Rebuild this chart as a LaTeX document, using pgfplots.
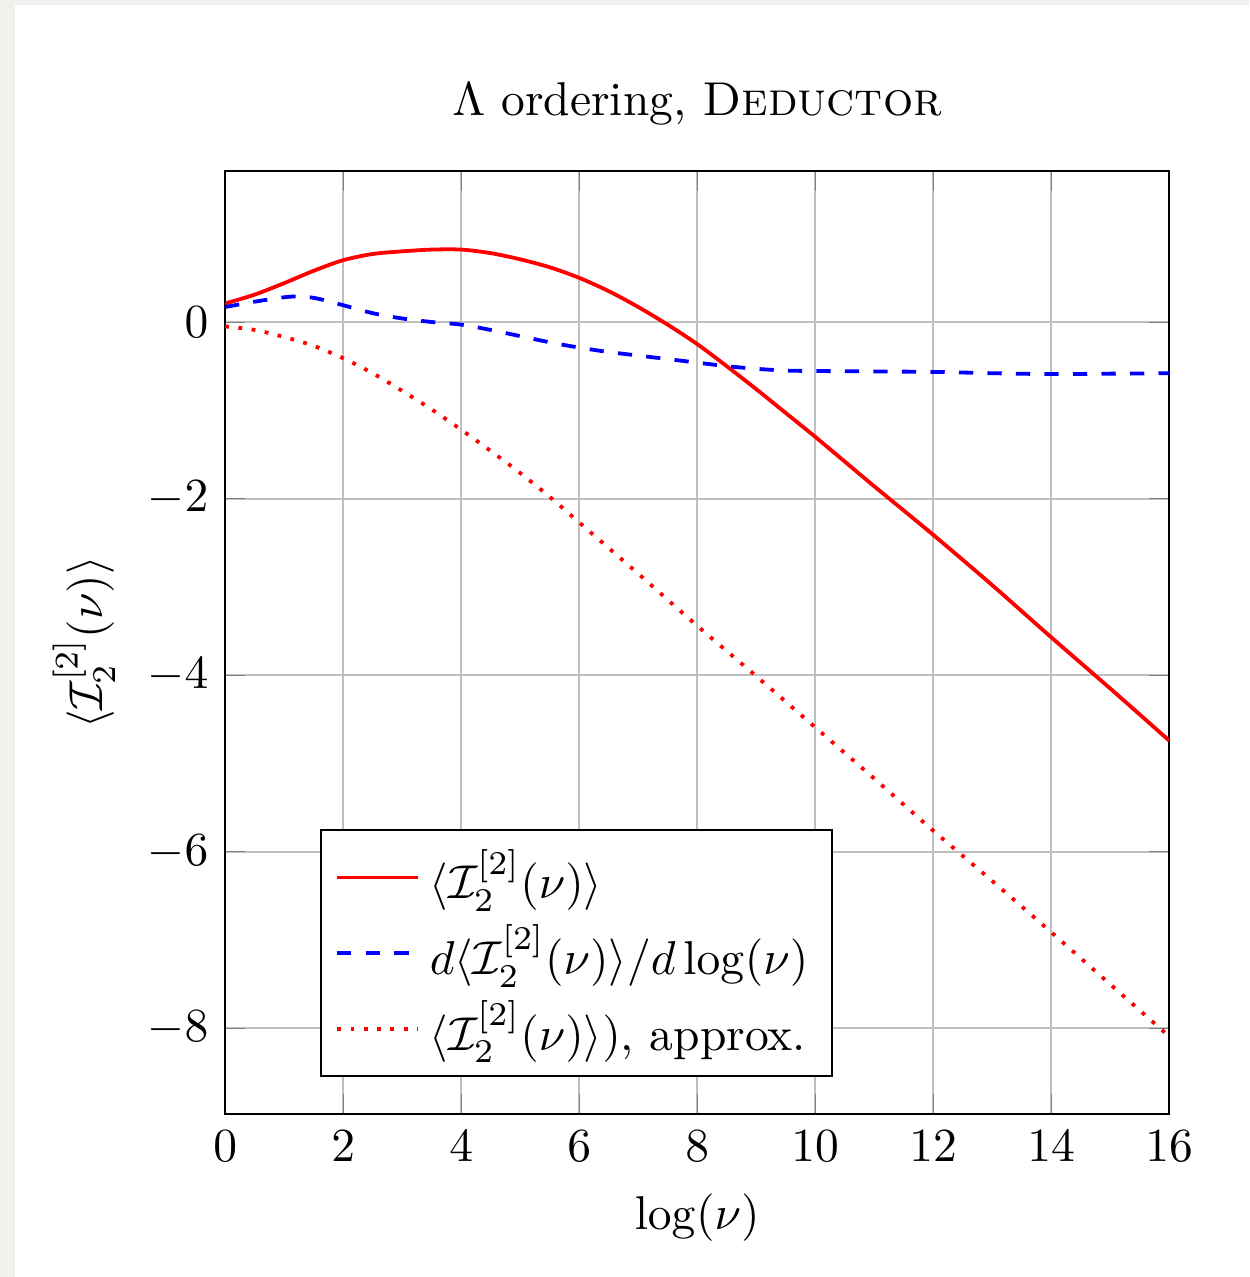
\documentclass[border=0pt]{standalone}
\usepackage{amsmath}
\usepackage{pgfplots}
\pgfplotsset{compat=1.18}
\definecolor{viewerbg}{RGB}{240,240,236}

\begin{document}
\begin{tikzpicture}
    % page edge of the viewer screenshot
    \fill[viewerbg] (-47.4pt,-34.3pt) rectangle (215.6pt,234.5pt);
    \fill[white] (-44.24pt,-34.3pt) rectangle (215.6pt,233.45pt);
    \begin{axis}[
        at={(0pt,0pt)}, anchor=south west,
        scale only axis,
        width=198.7pt, height=198.5pt,
        xmin=0, xmax=16,
        ymin=-8.97, ymax=1.71,
        xtick={0,2,...,16},
        ytick={-8,-6,-4,-2,0},
        grid=major,
        title={$\Lambda$ ordering, \textsc{Deductor}},
        xlabel={$\log(\nu)$},
        ylabel={$\langle \mathcal{I}_2^{[2]}(\nu)\rangle$},
        legend style={at={(0.1006,0.039)}, anchor=south west, legend cell align=left},
    ]
    \addplot[red, thick, smooth] coordinates {
        (0,0.21) (0.5,0.31) (1,0.44) (1.5,0.58) (2,0.70) (2.5,0.77)
        (3,0.80) (3.5,0.82) (4,0.82) (4.5,0.78) (5,0.71) (5.5,0.62)
        (6,0.50) (6.5,0.35) (7,0.17) (7.5,-0.03) (8,-0.25) (8.5,-0.50)
        (9,-0.76) (9.5,-1.03) (10,-1.30) (10.5,-1.58) (11,-1.86)
        (12,-2.41) (13,-2.98) (14,-3.57) (15,-4.15) (16,-4.74)
    };
    \addlegendentry{$\langle\mathcal{I}_2^{[2]}(\nu)\rangle$}
    \addplot[blue, thick, dashed, smooth] coordinates {
        (0,0.17) (0.5,0.23) (1,0.28) (1.3,0.29) (1.6,0.26) (2,0.19)
        (2.5,0.10) (3,0.04) (3.5,0.00) (4,-0.03) (4.5,-0.09) (5,-0.16)
        (5.5,-0.23) (6,-0.29) (6.5,-0.34) (7,-0.38) (7.5,-0.42) (8,-0.46)
        (8.5,-0.50) (9,-0.53) (9.5,-0.55) (10,-0.555) (11,-0.56)
        (12,-0.565) (13,-0.58) (14,-0.59) (15,-0.585) (16,-0.58)
    };
    \addlegendentry{$d\langle\mathcal{I}_2^{[2]}(\nu)\rangle/d\log(\nu)$}
    \addplot[red, thick, dotted, smooth] coordinates {
        (0,-0.05) (0.5,-0.09) (1,-0.17) (1.5,-0.27) (2,-0.41) (2.5,-0.58)
        (3,-0.78) (3.5,-0.99) (4,-1.22) (4.5,-1.46) (5,-1.71) (5.5,-1.98)
        (6,-2.27) (7,-2.85) (8,-3.44) (9,-4.01) (10,-4.59) (11,-5.17)
        (12,-5.76) (13,-6.33) (14,-6.91) (15,-7.50) (16,-8.09)
    };
    \addlegendentry{$\langle\mathcal{I}_2^{[2]}(\nu)\rangle)$, approx.}
    \end{axis}
\end{tikzpicture}
\end{document}
